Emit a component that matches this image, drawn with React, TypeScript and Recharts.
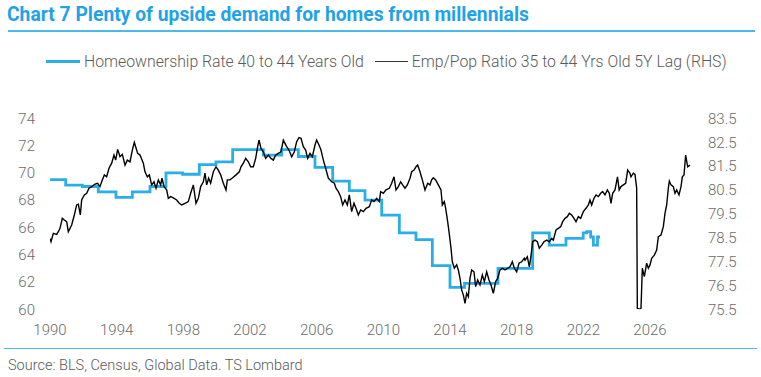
import React from 'react';
import { LineChart, Line, XAxis, YAxis } from 'recharts';

const titleText = 'Chart 7 Plenty of upside demand for homes from millennials';
const homeLabel = 'Homeownership Rate 40 to 44 Years Old';
const empLabel = 'Emp/Pop Ratio 35 to 44 Yrs Old 5Y Lag (RHS)';
const sourceText = 'Source: BLS, Census, Global Data. TS Lombard';

const xTicks = [1990, 1994, 1998, 2002, 2006, 2010, 2014, 2018, 2022, 2026];
const leftTicks = [60, 62, 64, 66, 68, 70, 72, 74];
const rightTicks = [75.5, 76.5, 77.5, 78.5, 79.5, 80.5, 81.5, 82.5, 83.5];

const homeYears = [
  1990.0, 1990.94, 1991.94, 1992.9, 1993.96, 1994.94, 1996.0, 1996.96, 1997.96, 1998.96,
  1999.96, 2000.96, 2002.8, 2003.9, 2004.9, 2005.9, 2006.96, 2007.96, 2008.9, 2009.9,
  2010.96, 2011.96, 2012.94, 2014.0, 2014.87, 2016.88, 2018.96, 2019.96, 2020.96, 2021.99,
  2022.2, 2022.44, 2022.6, 2022.85, 2023.0,
];
const homeRates = [
  69.5, 69.1, 69.0, 68.6, 68.2, 68.6, 69.0, 70.0, 69.9, 70.6,
  70.8, 71.7, 71.3, 71.7, 71.2, 70.4, 69.4, 68.7, 68.0, 66.9,
  65.6, 65.1, 63.2, 61.6, 61.9, 63.0, 65.6, 64.7, 65.2, 65.6,
  65.7, 65.3, 64.7, 65.3, 65.3,
];

const empYears = [
  1990.0, 1990.06, 1990.2, 1990.4, 1990.5, 1990.6, 1990.74, 1990.86, 1991.0, 1991.1,
  1991.3, 1991.46, 1991.6, 1991.7, 1991.82, 1991.9, 1992.06, 1992.2, 1992.34, 1992.5,
  1992.7, 1992.86, 1993.0, 1993.1, 1993.26, 1993.4, 1993.54, 1993.7, 1993.84, 1993.94,
  1994.06, 1994.2, 1994.34, 1994.5, 1994.64, 1994.8, 1994.94, 1995.06, 1995.26, 1995.4,
  1995.6, 1995.7, 1995.84, 1995.96, 1996.1, 1996.24, 1996.36, 1996.5, 1996.64, 1996.72,
  1996.84, 1997.0, 1997.1, 1997.24, 1997.4, 1997.6, 1997.76, 1997.9, 1998.1, 1998.3,
  1998.44, 1998.6, 1998.76, 1998.9, 1999.04, 1999.2, 1999.3, 1999.4, 1999.52, 1999.64,
  1999.8, 1999.96, 2000.1, 2000.24, 2000.4, 2000.56, 2000.64, 2000.8, 2000.96, 2001.16,
  2001.36, 2001.46, 2001.6, 2001.74, 2001.9, 2002.04, 2002.2, 2002.34, 2002.46, 2002.54,
  2002.66, 2002.8, 2002.94, 2003.1, 2003.26, 2003.4, 2003.54, 2003.7, 2003.86, 2004.0,
  2004.1, 2004.2, 2004.34, 2004.5, 2004.66, 2004.8, 2004.94, 2005.06, 2005.2, 2005.34,
  2005.46, 2005.6, 2005.74, 2005.9, 2006.0, 2006.14, 2006.26, 2006.4, 2006.54, 2006.7,
  2006.9, 2007.06, 2007.16, 2007.3, 2007.44, 2007.56, 2007.7, 2007.84, 2007.96, 2008.1,
  2008.24, 2008.36, 2008.5, 2008.64, 2008.8, 2008.96, 2009.16, 2009.3, 2009.44, 2009.6,
  2009.76, 2009.84, 2010.0, 2010.16, 2010.36, 2010.5, 2010.64, 2010.76, 2010.9, 2011.04,
  2011.16, 2011.3, 2011.44, 2011.6, 2011.7, 2011.84, 2011.96, 2012.06, 2012.2, 2012.34,
  2012.5, 2012.66, 2012.8, 2012.9, 2013.0, 2013.14, 2013.3, 2013.46, 2013.54, 2013.66,
  2013.74, 2013.86, 2013.94, 2014.06, 2014.14, 2014.26, 2014.4, 2014.5, 2014.6, 2014.7,
  2014.8, 2014.9, 2015.0, 2015.1, 2015.2, 2015.3, 2015.44, 2015.54, 2015.66, 2015.8,
  2015.94, 2016.06, 2016.2, 2016.34, 2016.46, 2016.6, 2016.74, 2016.86, 2017.0, 2017.14,
  2017.3, 2017.46, 2017.6, 2017.74, 2017.86, 2018.0, 2018.14, 2018.3, 2018.46, 2018.5,
  2018.64, 2018.76, 2018.84, 2018.96, 2019.1, 2019.24, 2019.36, 2019.5, 2019.64, 2019.8,
  2019.96, 2020.1, 2020.2, 2020.36, 2020.5, 2020.64, 2020.76, 2020.9, 2021.04, 2021.16,
  2021.3, 2021.44, 2021.56, 2021.7, 2021.84, 2022.0, 2022.16, 2022.3, 2022.4, 2022.5,
  2022.64, 2022.76, 2022.9, 2023.04, 2023.16, 2023.3, 2023.44, 2023.56, 2023.66, 2023.76,
  2023.9, 2024.05, 2024.15, 2024.26, 2024.4, 2024.54, 2024.66, 2024.8, 2024.86, 2025.0,
  2025.1, 2025.2, 2025.24, 2025.4, 2025.46, 2025.54, 2025.66, 2025.8, 2025.9, 2026.0,
  2026.1, 2026.26, 2026.4, 2026.5, 2026.66, 2026.8, 2026.9, 2027.0, 2027.1, 2027.16,
  2027.26, 2027.4, 2027.5, 2027.6, 2027.74, 2027.86, 2027.94, 2028.04, 2028.14, 2028.26,
  2028.4,
];
const empRatio = [
  78.47, 78.33, 78.68, 78.64, 78.75, 78.89, 79.31, 79.24, 79.17, 78.75,
  79.03, 79.45, 79.87, 79.9, 79.45, 80.08, 80.29, 80.36, 80.57, 80.64,
  80.74, 80.78, 80.64, 80.84, 81.13, 81.05, 81.41, 81.62, 81.96, 81.75,
  82.2, 81.89, 81.99, 81.54, 81.75, 81.68, 82.17, 82.49, 82.03, 81.96,
  81.62, 81.26, 81.05, 81.13, 80.71, 80.84, 80.57, 80.92, 80.71, 80.99,
  80.64, 80.5, 80.15, 80.22, 80.17, 80.08, 79.94, 79.87, 79.94, 80.01,
  80.36, 80.71, 79.94, 80.15, 80.64, 80.84, 81.2, 80.71, 80.99, 80.78,
  81.26, 81.47, 81.33, 81.13, 80.78, 80.5, 80.92, 80.92, 81.01, 81.13,
  81.26, 81.47, 81.62, 81.82, 81.68, 81.47, 81.47, 81.82, 82.31, 82.59,
  82.24, 82.1, 81.82, 81.96, 81.82, 81.75, 81.96, 82.03, 82.1, 82.59,
  82.45, 82.31, 82.17, 81.89, 82.1, 82.52, 82.69, 82.66, 82.31, 82.17,
  81.82, 82.03, 81.89, 82.38, 82.59, 82.38, 82.17, 81.75, 81.41, 80.99,
  80.84, 80.78, 80.57, 80.43, 80.22, 79.87, 80.08, 79.87, 80.29, 79.59,
  79.94, 79.73, 79.45, 79.66, 79.59, 79.73, 79.8, 80.08, 80.01, 80.15,
  80.01, 80.43, 80.36, 80.5, 80.57, 80.78, 81.05, 80.5, 80.64, 80.84,
  80.71, 80.57, 80.71, 80.99, 81.26, 81.33, 81.47, 81.54, 81.26, 80.92,
  80.5, 80.78, 80.71, 80.92, 81.01, 80.92, 80.71, 80.5, 79.87, 80.01,
  79.73, 79.17, 78.75, 78.06, 77.49, 77.22, 77.36, 77.15, 76.8, 76.31,
  76.1, 75.75, 76.17, 76.03, 76.8, 77.15, 77.07, 76.45, 76.73, 76.52,
  76.94, 76.66, 77.07, 76.73, 76.52, 76.17, 76.66, 76.8, 77.15, 77.22,
  77.15, 77.22, 77.28, 77.49, 77.22, 77.07, 77.43, 77.49, 77.64, 77.56,
  77.7, 77.28, 77.64, 78.33, 78.4, 78.33, 78.06, 78.19, 78.33, 78.4,
  78.33, 78.47, 78.4, 78.82, 78.89, 78.96, 79.17, 79.31, 79.38, 79.52,
  79.45, 79.31, 79.17, 79.38, 79.31, 79.59, 79.73, 79.87, 80.08, 79.87,
  80.15, 80.29, 80.22, 80.36, 80.43, 80.29, 80.5, 80.36, 79.94, 80.36,
  80.5, 81.05, 80.5, 80.64, 80.71, 80.78, 81.33, 81.2, 81.05, 81.2,
  81.15, 80.57, 75.54, 75.51, 75.54, 77.22, 76.87, 77.43, 77.22, 77.36,
  77.64, 77.77, 77.98, 78.54, 78.61, 78.96, 79.52, 79.87, 80.57, 80.87,
  80.71, 80.64, 80.36, 80.5, 80.29, 80.64, 81.05, 81.13, 81.96, 81.47,
  81.54,
];

const homeData = homeYears.map((year, i) => ({ year, rate: homeRates[i] }));
const empData = empYears.map((year, i) => ({ year, ratio: empRatio[i] }));

const FONT = 'Roboto, "Noto Sans", sans-serif';
const BLUE = '#29aee8';
const TITLE_BLUE = '#1fa3e6';
const GREY = '#5a5a5a';

const tickStyle = { fill: '#6b6b6b', fontSize: 15, fontFamily: FONT, fontWeight: 300 };

export default function App() {
  return (
    <div style={{ position: 'absolute', left: 0, top: 0, width: 761, height: 377, background: '#fff', fontFamily: FONT }}>
      <div style={{ position: 'absolute', left: 0, top: 0 }}>
        <LineChart
          width={761}
          height={377}
          margin={{ top: 118.3, right: 11, bottom: 37.7, left: 0 }}
        >
          <XAxis
            dataKey="year"
            type="number"
            domain={[1990, 2029]}
            ticks={xTicks}
            axisLine={false}
            tickLine={false}
            tickMargin={9}
            height={30}
            tick={tickStyle}
            allowDataOverflow
          />
          <YAxis
            yAxisId="left"
            orientation="left"
            width={50}
            domain={[60, 74]}
            ticks={leftTicks}
            axisLine={false}
            tickLine={false}
            tickMargin={9}
            tick={tickStyle}
            allowDataOverflow
          />
          <YAxis
            yAxisId="right"
            orientation="right"
            width={50}
            domain={[75.5, 83.5]}
            ticks={rightTicks}
            axisLine={false}
            tickLine={false}
            tickMargin={2}
            tick={tickStyle}
            allowDataOverflow
          />
          <Line
            yAxisId="left"
            data={homeData}
            dataKey="rate"
            type="stepAfter"
            stroke={BLUE}
            strokeWidth={2.8}
            dot={false}
            activeDot={false}
            isAnimationActive={false}
          />
          <Line
            yAxisId="right"
            data={empData}
            dataKey="ratio"
            type="linear"
            stroke="#000"
            strokeWidth={1.4}
            dot={false}
            activeDot={false}
            isAnimationActive={false}
          />
        </LineChart>
      </div>

      <div style={{ position: 'absolute', left: 7, top: 3, fontSize: 19.3, fontWeight: 700, color: TITLE_BLUE, whiteSpace: 'nowrap' }}>
        {titleText}
      </div>
      <div style={{ position: 'absolute', left: 8, top: 30, width: 747, height: 1.5, background: '#4cb9ec' }} />

      <div style={{ position: 'absolute', left: 46, top: 52, display: 'flex', alignItems: 'center', whiteSpace: 'nowrap', fontSize: 15.8, fontWeight: 300, color: GREY }}>
        <span style={{ display: 'inline-block', width: 34, height: 3, background: BLUE, marginRight: 4 }} />
        <span>{homeLabel}</span>
        <span style={{ display: 'inline-block', width: 33, height: 1.5, background: '#333', marginLeft: 11, marginRight: 4 }} />
        <span>{empLabel}</span>
      </div>

      <div style={{ position: 'absolute', left: 4, top: 347.5, width: 753, height: 1.5, background: '#4cb9ec' }} />
      <div style={{ position: 'absolute', left: 8, top: 356.5, fontSize: 14.5, fontWeight: 300, color: GREY, whiteSpace: 'nowrap' }}>
        {sourceText}
      </div>
    </div>
  );
}
